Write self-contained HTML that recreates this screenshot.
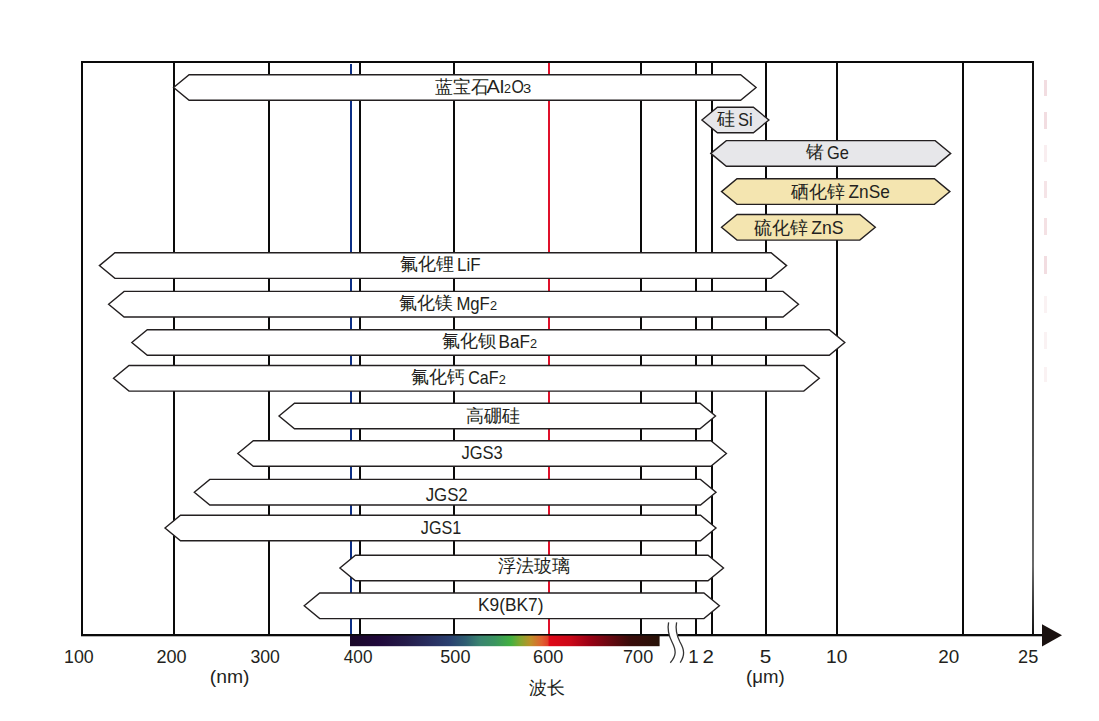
<!DOCTYPE html>
<html><head><meta charset="utf-8"><style>
html,body{margin:0;padding:0;background:#fff;}
body{width:1099px;height:721px;overflow:hidden;position:relative;}
svg{position:absolute;left:0;top:0;}
</style></head><body>
<svg width="1099" height="721" viewBox="0 0 1099 721">
<defs><linearGradient id="spec" x1="0" x2="1" y1="0" y2="0"><stop offset="0.0000" stop-color="#1a0828"/><stop offset="0.0903" stop-color="#20083a"/><stop offset="0.1774" stop-color="#241a48"/><stop offset="0.2581" stop-color="#282e60"/><stop offset="0.3226" stop-color="#2a4070"/><stop offset="0.3742" stop-color="#2e5e72"/><stop offset="0.4194" stop-color="#3a8470"/><stop offset="0.4677" stop-color="#3a9460"/><stop offset="0.5194" stop-color="#42b040"/><stop offset="0.5484" stop-color="#80a830"/><stop offset="0.5839" stop-color="#c09028"/><stop offset="0.6194" stop-color="#e06030"/><stop offset="0.6397" stop-color="#e04028"/><stop offset="0.6429" stop-color="#e00818"/><stop offset="0.7097" stop-color="#cc0818"/><stop offset="0.7742" stop-color="#9a0014"/><stop offset="0.8387" stop-color="#680810"/><stop offset="0.9032" stop-color="#3a0c0a"/><stop offset="1.0000" stop-color="#281208"/></linearGradient></defs>
<rect width="1099" height="721" fill="#fff"/>
<rect x="173" y="61" width="2" height="574" fill="#0a0a0a"/>
<rect x="268" y="61" width="2" height="574" fill="#0a0a0a"/>
<rect x="359" y="61" width="2" height="574" fill="#0a0a0a"/>
<rect x="453" y="61" width="2" height="574" fill="#0a0a0a"/>
<rect x="640" y="61" width="2" height="574" fill="#0a0a0a"/>
<rect x="695" y="61" width="2" height="574" fill="#0a0a0a"/>
<rect x="711" y="61" width="2" height="574" fill="#0a0a0a"/>
<rect x="765" y="61" width="2" height="574" fill="#0a0a0a"/>
<rect x="836" y="61" width="2" height="574" fill="#0a0a0a"/>
<rect x="962" y="61" width="2" height="574" fill="#0a0a0a"/>
<rect x="350" y="64" width="2" height="571" fill="#0c2f86"/>
<rect x="548" y="62" width="2" height="573" fill="#e0102a"/>
<rect x="81" y="61" width="953" height="2" fill="#0a0a0a"/>
<rect x="81" y="61" width="2" height="574" fill="#0a0a0a"/>
<linearGradient id="rb" x1="0" x2="0" y1="0" y2="1"><stop offset="0" stop-color="#111"/><stop offset="0.35" stop-color="#2a2a2a"/><stop offset="0.7" stop-color="#555"/><stop offset="0.88" stop-color="#6a6a6a"/><stop offset="1" stop-color="#111"/></linearGradient>
<rect x="1032" y="61" width="2" height="574" fill="url(#rb)"/>
<rect x="1044" y="80" width="3" height="16" fill="#e6bcc4" opacity="0.5"/>
<rect x="1044" y="112" width="3" height="17" fill="#e6bcc4" opacity="0.5"/>
<rect x="1044" y="145" width="3" height="17" fill="#e6bcc4" opacity="0.25"/>
<rect x="1044" y="181" width="3" height="17" fill="#e6bcc4" opacity="0.4"/>
<rect x="1044" y="218" width="3" height="17" fill="#e6bcc4" opacity="0.45"/>
<rect x="1044" y="256" width="3" height="18" fill="#e6bcc4" opacity="0.5"/>
<rect x="1044" y="296" width="3" height="17" fill="#e6bcc4" opacity="0.2"/>
<rect x="1044" y="332" width="3" height="17" fill="#e6bcc4" opacity="0.2"/>
<rect x="1044" y="367" width="3" height="15" fill="#e6bcc4" opacity="0.2"/>
<rect x="81" y="634" width="963" height="2.3" fill="#0a0a0a"/>
<polygon points="1042,624.3 1062,635.2 1042,646.4" fill="#1a1210"/>
<rect x="350" y="635.6" width="309.6" height="10.6" fill="url(#spec)"/>
<polygon points="173.6,87.5 189.1,74.7 740.6,74.7 756.1,87.5 740.6,100.3 189.1,100.3" fill="#fff" stroke="#231f20" stroke-width="1.4"/>
<polygon points="701.9,120.0 717.4,107.2 753.4,107.2 768.9,120.0 753.4,132.8 717.4,132.8" fill="#e7e7ea" stroke="#231f20" stroke-width="1.4"/>
<polygon points="710.8,153.4 726.3,140.6 935.2,140.6 950.7,153.4 935.2,166.20000000000002 726.3,166.20000000000002" fill="#e7e7ea" stroke="#231f20" stroke-width="1.4"/>
<polygon points="721.5,191.6 737.0,178.79999999999998 934.4,178.79999999999998 949.9,191.6 934.4,204.4 737.0,204.4" fill="#f4e5b0" stroke="#231f20" stroke-width="1.4"/>
<polygon points="721.5,227.3 737.0,214.5 859.8,214.5 875.3,227.3 859.8,240.10000000000002 737.0,240.10000000000002" fill="#f4e5b0" stroke="#231f20" stroke-width="1.4"/>
<polygon points="99.4,265.6 114.9,252.8 771.1,252.8 786.6,265.6 771.1,278.40000000000003 114.9,278.40000000000003" fill="#fff" stroke="#231f20" stroke-width="1.4"/>
<polygon points="108.6,304.2 124.1,291.4 783.0,291.4 798.5,304.2 783.0,317.0 124.1,317.0" fill="#fff" stroke="#231f20" stroke-width="1.4"/>
<polygon points="131.8,342.5 147.3,329.7 829.3,329.7 844.8,342.5 829.3,355.3 147.3,355.3" fill="#fff" stroke="#231f20" stroke-width="1.4"/>
<polygon points="113.5,378.3 129.0,365.5 803.8,365.5 819.3,378.3 803.8,391.1 129.0,391.1" fill="#fff" stroke="#231f20" stroke-width="1.4"/>
<polygon points="279.0,416.0 294.5,403.2 700.0,403.2 715.5,416.0 700.0,428.8 294.5,428.8" fill="#fff" stroke="#231f20" stroke-width="1.4"/>
<polygon points="237.8,453.5 253.3,440.7 710.9,440.7 726.4,453.5 710.9,466.3 253.3,466.3" fill="#fff" stroke="#231f20" stroke-width="1.4"/>
<polygon points="194.3,492.2 209.8,479.4 700.5,479.4 716.0,492.2 700.5,505.0 209.8,505.0" fill="#fff" stroke="#231f20" stroke-width="1.4"/>
<polygon points="165.0,528.0 180.5,515.2 700.5,515.2 716.0,528.0 700.5,540.8 180.5,540.8" fill="#fff" stroke="#231f20" stroke-width="1.4"/>
<polygon points="339.9,568.0 355.4,555.2 708.0,555.2 723.5,568.0 708.0,580.8 355.4,580.8" fill="#fff" stroke="#231f20" stroke-width="1.4"/>
<polygon points="304.2,605.8 319.7,593.0 703.9,593.0 719.4,605.8 703.9,618.5999999999999 319.7,618.5999999999999" fill="#fff" stroke="#231f20" stroke-width="1.4"/>
<rect x="669" y="633" width="9" height="4" fill="#fff"/>
<path d="M668.6,622.3 C667,630 669,636 672,642 C676,650 677,655 670.3,662.7" fill="none" stroke="#333" stroke-width="1.3"/>
<path d="M676.6,622.3 C675,630 677,636 680,642 C684.5,650 685,655 680.2,662.7" fill="none" stroke="#333" stroke-width="1.3"/>
<g font-family="Liberation Sans" fill="#231f20">
<text x="435.37" y="92.70" font-size="18">蓝宝石</text>
<text transform="translate(486.45,93.00) scale(1.1114,1)" font-size="18">Al</text>
<text transform="translate(504.06,93.00) scale(0.9276,1)" font-size="13.5">2</text>
<text transform="translate(511.44,93.00) scale(0.8872,1)" font-size="18">O</text>
<text transform="translate(522.98,93.00) scale(1.0911,1)" font-size="13.5">3</text>
<text x="716.50" y="125.30" font-size="18">硅</text>
<text transform="translate(738.01,125.80) scale(0.9178,1)" font-size="18">Si</text>
<text x="805.73" y="158.20" font-size="18">锗</text>
<text transform="translate(827.00,158.70) scale(0.9131,1)" font-size="18">Ge</text>
<text x="790.68" y="197.50" font-size="18">硒化锌</text>
<text transform="translate(848.52,198.00) scale(0.9589,1)" font-size="18">ZnSe</text>
<text x="754.40" y="233.50" font-size="18">硫化锌</text>
<text transform="translate(811.30,234.00) scale(0.9789,1)" font-size="18">ZnS</text>
<text x="399.75" y="270.20" font-size="18">氟化锂</text>
<text transform="translate(457.08,270.70) scale(0.9397,1)" font-size="18">LiF</text>
<text x="398.85" y="309.30" font-size="18">氟化镁</text>
<text transform="translate(456.40,309.80) scale(0.9298,1)" font-size="18">MgF</text>
<text transform="translate(489.94,309.80) scale(0.9438,1)" font-size="13.5">2</text>
<text x="441.75" y="347.10" font-size="18">氟化钡</text>
<text transform="translate(498.57,347.80) scale(0.9489,1)" font-size="18">BaF</text>
<text transform="translate(529.94,347.80) scale(0.9438,1)" font-size="13.5">2</text>
<text x="410.95" y="383.10" font-size="18">氟化钙</text>
<text transform="translate(468.21,383.80) scale(0.8923,1)" font-size="18">CaF</text>
<text transform="translate(498.84,383.80) scale(0.9438,1)" font-size="13.5">2</text>
<text x="466.46" y="421.70" font-size="18">高硼硅</text>
<text transform="translate(461.41,458.90) scale(0.9183,1)" font-size="18">JGS3</text>
<text transform="translate(425.71,501.00) scale(0.9333,1)" font-size="18">JGS2</text>
<text transform="translate(420.82,533.70) scale(0.8988,1)" font-size="18">JGS1</text>
<text x="498.42" y="572.00" font-size="18">浮法玻璃</text>
<text transform="translate(478.05,610.80) scale(0.9627,1)" font-size="18">K9(BK7)</text>
<text transform="translate(64.00,662.80) scale(0.9901,1)" font-size="18">100</text>
<text transform="translate(156.51,662.80) scale(1.0035,1)" font-size="18">200</text>
<text transform="translate(250.44,662.80) scale(0.9820,1)" font-size="18">300</text>
<text transform="translate(343.77,662.80) scale(0.9570,1)" font-size="18">400</text>
<text transform="translate(440.31,662.80) scale(1.0035,1)" font-size="18">500</text>
<text transform="translate(533.09,662.80) scale(1.0042,1)" font-size="18">600</text>
<text x="623.11" y="662.80" font-size="18">700</text>
<text transform="translate(688.24,662.80) scale(1.0333,1)" font-size="18">1</text>
<text transform="translate(702.46,662.80) scale(1.1401,1)" font-size="18">2</text>
<text transform="translate(759.74,662.80) scale(1.1525,1)" font-size="18">5</text>
<text transform="translate(825.99,662.80) scale(1.0681,1)" font-size="18">10</text>
<text transform="translate(938.16,662.80) scale(1.0491,1)" font-size="18">20</text>
<text transform="translate(1018.10,662.80) scale(1.0086,1)" font-size="18">25</text>
<text transform="translate(209.79,683.00) scale(1.0744,1)" font-size="18">(nm)</text>
<text transform="translate(746.04,683.00) scale(1.0363,1)" font-size="18">(μm)</text>
<text x="529.23" y="694.00" font-size="18">波长</text>
</g>
</svg>
</body></html>
